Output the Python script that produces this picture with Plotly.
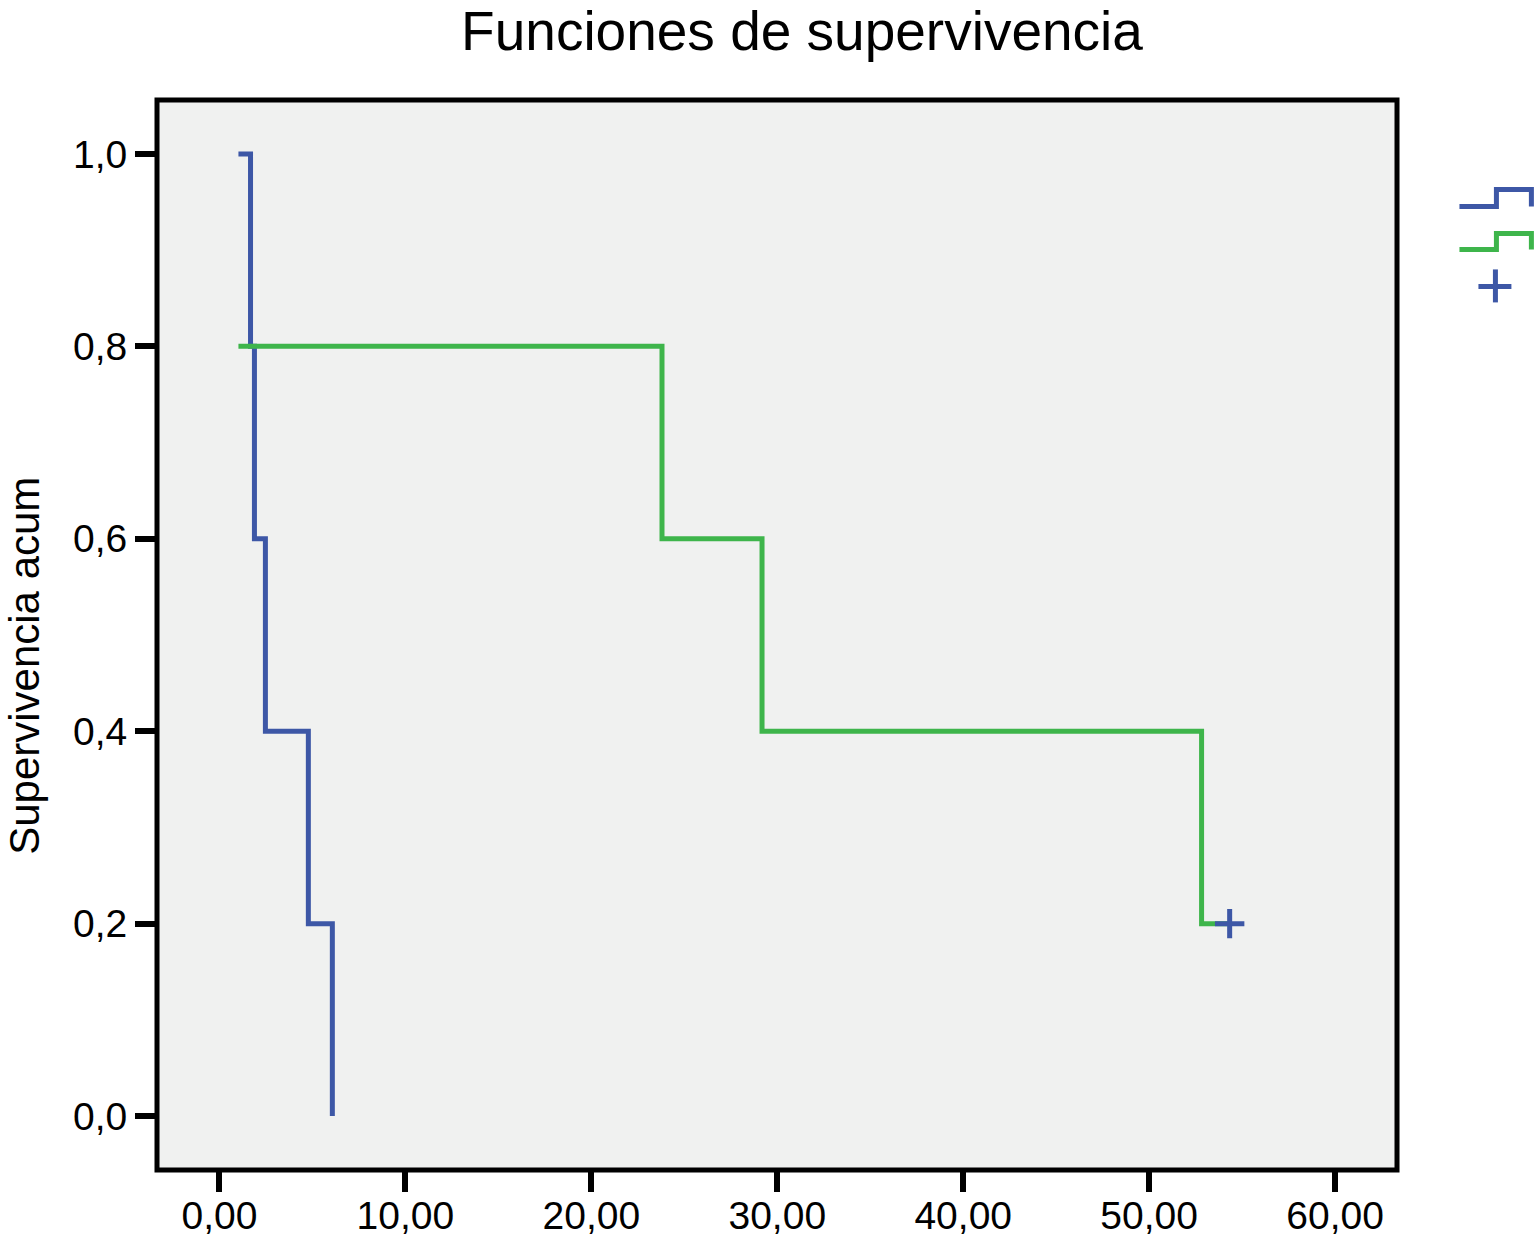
import plotly.graph_objects as go

# Kaplan-Meier estimates
grupo1_tiempo = [1.02, 1.67, 1.88, 2.47, 4.78, 6.07]
grupo1_superv = [1.0, 0.8, 0.6, 0.4, 0.2, 0.0]

grupo2_tiempo = [1.02, 23.8, 29.18, 52.82, 54.33]
grupo2_superv = [0.8, 0.6, 0.4, 0.2, 0.2]

censura_tiempo = [54.33]
censura_superv = [0.2]

x_ticks = [0, 10, 20, 30, 40, 50, 60]
y_ticks = [0.0, 0.2, 0.4, 0.6, 0.8, 1.0]

AZUL = "#3d57a6"
VERDE = "#3eb54b"
FONT = "Liberation Sans, Arial, Helvetica, sans-serif"

W, H = 1535, 1241
L, R, T, B = 156.5, 1397.5, 99.5, 1170


def px(x, y):
    # pixel position -> paper coordinates
    return (x - L) / (R - L), (B - y) / (B - T)


fig = go.Figure()
fig.add_trace(go.Scatter(x=grupo1_tiempo, y=grupo1_superv, mode="lines",
                         line=dict(color=AZUL, width=5, shape="hv"), showlegend=False))
fig.add_trace(go.Scatter(x=grupo2_tiempo, y=grupo2_superv, mode="lines",
                         line=dict(color=VERDE, width=5, shape="hv"), showlegend=False))
fig.add_trace(go.Scatter(x=censura_tiempo, y=censura_superv, mode="markers",
                         marker=dict(symbol="cross-thin", size=21,
                                     line=dict(color=AZUL, width=5)),
                         showlegend=False))

# plot frame centred on the plot edges
shapes = [dict(type="rect", xref="paper", yref="paper", x0=0, y0=0, x1=1, y1=1,
               line=dict(color="black", width=5), layer="above")]

# legend glyphs (cut off at the right edge in the original)
for col, y0, y1 in [(AZUL, 206, 189), (VERDE, 249, 233)]:
    pts = [px(1460, y0), px(1497, y0), px(1497, y1), px(1532, y1), px(1532, y0)]
    path = "M " + " L ".join(f"{a},{b}" for a, b in pts)
    shapes.append(dict(type="path", xref="paper", yref="paper", path=path,
                       line=dict(color=col, width=5)))
for (xa, ya), (xb, yb) in [((1479, 286), (1512, 286)), ((1496, 269), (1496, 302))]:
    a0, b0 = px(xa, ya)
    a1, b1 = px(xb, yb)
    shapes.append(dict(type="line", xref="paper", yref="paper", x0=a0, y0=b0, x1=a1, y1=b1,
                       line=dict(color=AZUL, width=5)))

fig.update_layout(
    width=W, height=H,
    margin=dict(l=L, r=W - R, t=T, b=H - B),
    paper_bgcolor="white",
    plot_bgcolor="#f0f1f0",
    separators=",.",
    font=dict(family=FONT, size=39, color="black"),
    title=dict(text="Funciones de supervivencia", x=802 / W, xanchor="center",
               xref="container", y=1 - 31 / H, yanchor="middle",
               font=dict(size=55, color="black")),
    shapes=shapes,
    annotations=[dict(text="Supervivencia acum", textangle=-90, xref="paper", yref="paper",
                      x=px(24, 0)[0], y=px(0, 666)[1], xanchor="center", yanchor="middle",
                      showarrow=False, font=dict(size=42))],
)
fig.update_xaxes(range=[-3.36, 63.33], tickvals=x_ticks, tickformat=".2f",
                 ticks="outside", ticklen=21, tickwidth=6, tickcolor="black",
                 ticklabelstandoff=-10, showline=False,
                 showgrid=False, zeroline=False, automargin=False)
fig.update_yaxes(range=[-0.056, 1.056], tickvals=y_ticks, tickformat=".1f",
                 ticks="outside", ticklen=21, tickwidth=6, tickcolor="black",
                 showline=False,
                 showgrid=False, zeroline=False, automargin=False)

# drop the default 8px body margin so the figure fills the window
fig.write_html("out.html", config={"displayModeBar": False},
               post_script="document.body.style.margin = '0';")
